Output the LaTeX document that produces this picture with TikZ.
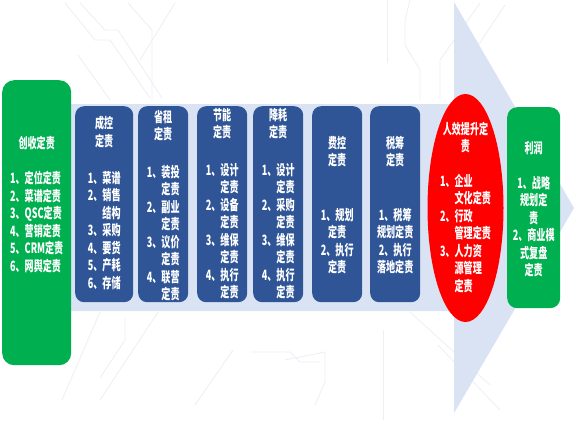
\documentclass[tikz,border=0pt]{standalone}
\usepackage{fontspec}
\setmainfont{Noto Sans CJK SC}[FakeStretch=0.64]
\usepackage{tikz}
\usetikzlibrary{positioning,calc,shapes.geometric}

\definecolor{grbox}{HTML}{00B050}
\definecolor{blbox}{HTML}{2F5597}
\definecolor{bandbg}{HTML}{DAE3F3}
\definecolor{redov}{HTML}{FF0000}
\definecolor{wire}{HTML}{ECEFF5}

\tikzset{
  box/.style={rounded corners=9pt, inner sep=0pt, anchor=north west},
  greenbox/.style={box, fill=grbox},
  bluebox/.style={box, fill=blbox, minimum width=50pt, minimum height=196pt},
  txt/.style={text=white, font=\bfseries\fontsize{14.2}{17.5}\selectfont, inner sep=0pt, align=left},
  ttl/.style={txt, align=center},
  wireline/.style={draw=wire, line width=0.8pt},
}
\newcommand{\ind}{\phantom{1、}}

\begin{document}
\begin{tikzpicture}[x=1pt,y=-1pt]
\useasboundingbox (0,0) rectangle (575,420);
\fill[white] (0,0) rectangle (575,420);

% faint circuit lines
\draw[wireline] (65,3) -- (95,40) -- (110,40) -- (150,98);
\draw[wireline] (80,3) -- (105,30) -- (118,30) -- (162,98);
\draw[wireline] (128,3) -- (152,30) -- (152,100);
\draw[wireline] (175,3) -- (140,60);
\draw[wireline] (78,55) -- (110,100);
\draw[wireline] (387,0) -- (387,63);
\draw[wireline] (410,0) -- (405,20) -- (405,45) -- (420,70) -- (420,100);
\draw[wireline] (505,5) -- (455,80);
\draw[wireline] (480,3) -- (440,60) -- (440,100);
\draw[wireline] (100,312) -- (62,400);
\draw[wireline] (125,318) -- (125,340) -- (100,378);
\draw[wireline] (158,312) -- (100,400);
\draw[wireline] (233,350) -- (195,405);
\draw[wireline] (250,352) -- (290,352) -- (300,362) -- (320,362);
\draw[wireline] (285,360) -- (325,352) -- (325,382) -- (315,405);
\draw[wireline] (383,330) -- (383,420);
\draw[wireline] (410,312) -- (490,385);
\draw[wireline] (438,345) -- (500,410);

% arrow
\fill[bandbg] (60,104) -- (454,104) -- (454,2) -- (574,208) -- (454,413) -- (454,311) -- (60,311) -- cycle;

\node[greenbox, rounded corners=12pt, minimum width=69pt, minimum height=285pt] (chuangshou) at (2,80) {};
\node[txt, align=center, below=56pt of chuangshou.north] (chuangshouT) {创收定责};
\node[txt, below=91pt of chuangshou.north] (chuangshouL) {1、定位定责\\2、菜谱定责\\3、QSC定责\\4、营销定责\\5、CRM定责\\6、网舆定责};

\node[bluebox, minimum width=58pt] (chengkong) at (75,106) {};
\node[ttl, below=10pt of chengkong.north] (chengkongT) {成控\\定责};
\node[txt, below=65pt of chengkong.north] (chengkongL) {1、菜谱\\2、销售\\\ind 结构\\3、采购\\4、要货\\5、产耗\\6、存储};

\node[bluebox] (shengzu) at (138,106) {};
\node[ttl, below=4pt of shengzu.north] (shengzuT) {省租\\定责};
\node[txt, below=59pt of shengzu.north] (shengzuL) {1、装投\\\ind 定责\\2、副业\\\ind 定责\\3、议价\\\ind 定责\\4、联营\\\ind 定责};

\node[bluebox] (jieneng) at (197,106) {};
\node[ttl, below=2pt of jieneng.north] (jienengT) {节能\\定责};
\node[txt, below=57pt of jieneng.north] (jienengL) {1、设计\\\ind 定责\\2、设备\\\ind 定责\\3、维保\\\ind 定责\\4、执行\\\ind 定责};

\node[bluebox] (jianghao) at (253,106) {};
\node[ttl, below=2pt of jianghao.north] (jianghaoT) {降耗\\定责};
\node[txt, below=57pt of jianghao.north] (jianghaoL) {1、设计\\\ind 定责\\2、采购\\\ind 定责\\3、维保\\\ind 定责\\4、执行\\\ind 定责};

\node[bluebox] (feikong) at (312,106) {};
\node[ttl, below=30pt of feikong.north] (feikongT) {费控\\定责};
\node[ttl, below=102pt of feikong.north] (feikongL) {1、规划\\定责\\2、执行\\定责};

\node[bluebox] (shuichou) at (370,106) {};
\node[ttl, below=30pt of shuichou.north] (shuichouT) {税筹\\定责};
\node[ttl, below=102pt of shuichou.north] (shuichouL) {1、税筹\\规划定责\\2、执行\\落地定责};

\node[ellipse, fill=redov, inner sep=0pt, minimum width=76pt, minimum height=228pt] (renxiao) at (465.5,208) {};
\node[ttl, below=28pt of renxiao.north] (renxiaoT) {人效提升定\\责};
\node[txt, below=80pt of renxiao.north] (renxiaoL) {1、企业\\\ind 文化定责\\2、行政\\\ind 管理定责\\3、人力资\\\ind 源管理\\\ind 定责};

\node[greenbox, rounded corners=10pt, minimum width=53pt, minimum height=201pt] (lirun) at (507,107) {};
\node[ttl, below=34pt of lirun.north] (lirunT) {利润};
\node[ttl, below=69pt of lirun.north] (lirunL) {1、战略\\规划定\\责\\2、商业模\\式复盘\\定责};
\end{tikzpicture}
\end{document}
